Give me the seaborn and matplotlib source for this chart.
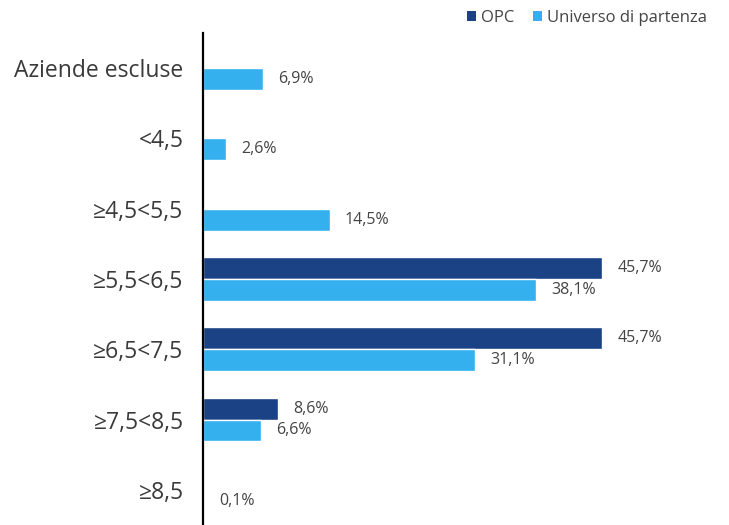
import pandas as pd
import matplotlib.pyplot as plt
import seaborn as sns
from matplotlib.patches import Patch

# Data
categories = ["Aziende escluse", "<4,5", "≥4,5<5,5", "≥5,5<6,5", "≥6,5<7,5", "≥7,5<8,5", "≥8,5"]
opc = [0.0, 0.0, 0.0, 45.7, 45.7, 8.6, 0.0]
universo = [6.9, 2.6, 14.5, 38.1, 31.1, 6.6, 0.1]
series = ["OPC", "Universo di partenza"]
colors = ["#1B4285", "#35B0EF"]

df = pd.DataFrame({
    "categoria": categories * 2,
    "serie": [series[0]] * len(categories) + [series[1]] * len(categories),
    "valore": opc + universo,
})

sns.set_style("white")
plt.rcParams["font.family"] = ["Open Sans", "DejaVu Sans"]

fig = plt.figure(figsize=(7.29, 5.25), dpi=100)
ax = fig.add_axes([203 / 729, 0, (720 - 203) / 729, (525 - 33) / 525])

sns.barplot(data=df, y="categoria", x="valore", hue="serie", order=categories,
            hue_order=series, palette=colors, saturation=1, orient="h", width=0.62,
            edgecolor="white", linewidth=1, legend=False, ax=ax)

# Value labels
for cont, vals, hide_zero in zip(ax.containers, [opc, universo], [True, False]):
    labels = []
    for v in vals:
        if hide_zero and v == 0:
            labels.append("")
        else:
            labels.append(f"{v:.1f}%".replace(".", ","))
    ax.bar_label(cont, labels=labels, padding=11, fontsize=11.5, color="#444444")

ax.set_xlim(0, 59.2)
ax.set_ylim(6.5, -0.5)
ax.set_xlabel("")
ax.set_ylabel("")
ax.set_xticks([])
ax.tick_params(axis="y", length=0, pad=14, labelsize=16.5, labelcolor="#3a3a3a")
for lbl in ax.get_yticklabels():
    lbl.set_y(lbl.get_position()[1])
    lbl.set_verticalalignment("center_baseline")

for side in ["top", "right", "bottom"]:
    ax.spines[side].set_visible(False)
ax.spines["left"].set_color("black")
ax.spines["left"].set_linewidth(1.6)

handles = [Patch(facecolor=c, edgecolor="none") for c in colors]
fig.legend(handles, series, loc="upper right", bbox_to_anchor=(0.99, 1.01), ncol=2,
           frameon=False, fontsize=12, labelcolor="#444444", handlelength=0.55,
           handleheight=0.55, handletextpad=0.3, columnspacing=1.1)

fig.savefig("out.png", dpi=100)
